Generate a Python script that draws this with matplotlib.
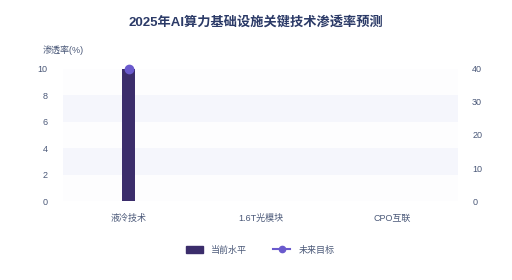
import matplotlib
matplotlib.use("Agg")
import matplotlib.pyplot as plt
import numpy as np
from matplotlib.lines import Line2D
from matplotlib.patches import Patch

plt.rcParams['font.family'] = ['Liberation Sans', 'Noto Sans CJK SC', 'DejaVu Sans']

categories = ['液冷技术', '1.6T光模块', 'CPO互联']
current_level = [10, 0, 0]
future_target = [40, np.nan, np.nan]
left_ticks = [0, 2, 4, 6, 8, 10]
right_ticks = [0, 10, 20, 30, 40]

bar_color = '#3b2d6b'
line_color = '#6a5acd'
text_color = '#4a5878'

fig = plt.figure(figsize=(5.12, 2.8), dpi=100)
ax = fig.add_axes([0.123, 0.282, 0.772, 0.472])
ax2 = ax.twinx()

x = np.arange(len(categories))
ax.set_xlim(-0.5, len(categories) - 0.5)
ax.set_ylim(0, 10)
ax2.set_ylim(0, 40)

band_colors = ['#fdfdfe', '#f5f6fc']
for i in range(5):
    ax.axhspan(i * 2, i * 2 + 2, color=band_colors[i % 2], zorder=0, lw=0)

ax.bar(x, current_level, width=0.1, color=bar_color, zorder=2)
ax2.plot(x, future_target, color=line_color, marker='o', markersize=6, lw=1.5, zorder=3,
         clip_on=False)

for a in (ax, ax2):
    for s in a.spines.values():
        s.set_visible(False)
    a.tick_params(length=0, labelsize=6.5, labelcolor=text_color)

ax.set_yticks(left_ticks)
ax2.set_yticks(right_ticks)
ax.set_xticks(x)
ax.set_xticklabels(categories, fontsize=6.5, color=text_color)
ax.tick_params(axis='x', pad=9)
ax.tick_params(axis='y', pad=11)
ax2.tick_params(axis='y', pad=10)

fig.text(0.5, 0.92, '2025年AI算力基础设施关键技术渗透率预测', ha='center', va='center',
         fontsize=9.5, fontweight='bold', color='#2b3a67')
fig.text(0.084, 0.82, '渗透率(%)', ha='left', va='center', fontsize=6.5, color=text_color)

handles = [Patch(facecolor=bar_color, edgecolor=bar_color, label='当前水平'),
           Line2D([0], [0], color=line_color, marker='o', markersize=4.5, lw=1.5, label='未来目标')]
leg = fig.legend(handles=handles, loc='center', bbox_to_anchor=(0.508, 0.107), ncol=2,
                 frameon=False, fontsize=6.5, handlelength=1.9, handleheight=0.9,
                 columnspacing=2.9, handletextpad=0.9)
for t in leg.get_texts():
    t.set_color(text_color)

fig.savefig('out.png', dpi=100, facecolor='white')
